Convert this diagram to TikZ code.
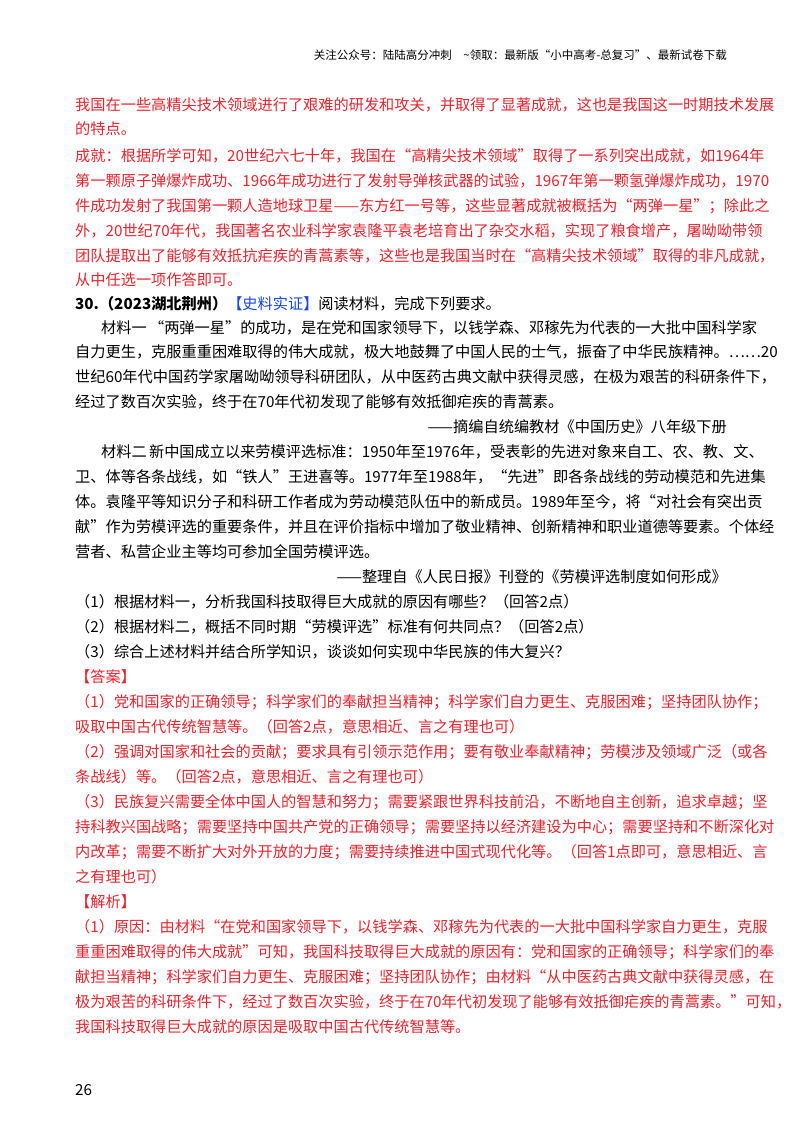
\documentclass[tikz,border=0pt]{standalone}
\usepackage{fontspec}
\setmainfont{Noto Sans CJK SC}
\definecolor{ared}{RGB}{235,35,45}
\definecolor{ablue}{RGB}{20,70,230}
\newcounter{ln}
\newcommand{\fullln}[3][black]{\stepcounter{ln}\node[anchor=west,text=#1] (l\arabic{ln}) at (75,#2) {\hbox to 652pt{#3}};}
\newcommand{\shortln}[3][black]{\stepcounter{ln}\node[anchor=west,text=#1] (l\arabic{ln}) at (75,#2) {#3};}
\newcommand{\indln}[3][black]{\stepcounter{ln}\node[anchor=west,text=#1] (l\arabic{ln}) at (75,#2) {\hbox to 652pt{\hspace{26pt}#3}};}
\newcommand{\indshort}[3][black]{\stepcounter{ln}\node[anchor=west,text=#1] (l\arabic{ln}) at (100,#2) {#3};}
\newcommand{\rightln}[3][black]{\stepcounter{ln}\node[anchor=east,text=#1] (l\arabic{ln}) at (727,#2) {#3};}
\XeTeXlinebreaklocale "zh"
\XeTeXlinebreakskip=0pt plus 4pt
\begin{document}
\begin{tikzpicture}[x=1pt,y=-1pt,every node/.style={inner sep=0pt,font=\fontsize{15.2}{18}\selectfont}]
\useasboundingbox (0,0) rectangle (800,1132);
\fill[white] (0,0) rectangle (800,1132);
\node[anchor=east,font=\fontsize{11.5}{14}\selectfont] (hdr) at (727,55) {关注公众号：陆陆高分冲刺\quad\~{}领取：最新版“小中高考-总复习”、最新试卷下载};
\fullln[ared]{105}{我国在一些高精尖技术领域进行了艰难的研发和攻关，并取得了显著成就，这也是我国这一时期技术发展}
\shortln[ared]{129}{的特点。}
\fullln[ared]{156}{成就：根据所学可知，20世纪六七十年，我国在“高精尖技术领域”取得了一系列突出成就，如1964年}
\fullln[ared]{181}{第一颗原子弹爆炸成功、1966年成功进行了发射导弹核武器的试验，1967年第一颗氢弹爆炸成功，1970}
\fullln[ared]{206}{件成功发射了我国第一颗人造地球卫星——东方红一号等，这些显著成就被概括为“两弹一星”；除此之}
\fullln[ared]{231}{外，20世纪70年代，我国著名农业科学家袁隆平袁老培育出了杂交水稻，实现了粮食增产，屠呦呦带领}
\fullln[ared]{256}{团队提取出了能够有效抵抗疟疾的青蒿素等，这些也是我国当时在“高精尖技术领域”取得的非凡成就，}
\shortln[ared]{280}{从中任选一项作答即可。}
\shortln{304}{\textbf{30.（2023湖北荆州）}\textcolor{ablue}{【史料实证】}阅读材料，完成下列要求。}
\indln{328}{材料一\ “两弹一星”的成功，是在党和国家领导下，以钱学森、邓稼先为代表的一大批中国科学家}
\fullln{352}{自力更生，克服重重困难取得的伟大成就，极大地鼓舞了中国人民的士气，振奋了中华民族精神。……20}
\fullln{377}{世纪60年代中国药学家屠呦呦领导科研团队，从中医药古典文献中获得灵感，在极为艰苦的科研条件下，}
\shortln{402}{经过了数百次实验，终于在70年代初发现了能够有效抵御疟疾的青蒿素。}
\rightln{427}{——摘编自统编教材《中国历史》八年级下册}
\indln{452}{材料二\ 新中国成立以来劳模评选标准：1950年至1976年，受表彰的先进对象来自工、农、教、文、}
\fullln{477}{卫、体等各条战线，如“铁人”王进喜等。1977年至1988年，“先进”即各条战线的劳动模范和先进集}
\fullln{502}{体。袁隆平等知识分子和科研工作者成为劳动模范队伍中的新成员。1989年至今，将“对社会有突出贡}
\fullln{527}{献”作为劳模评选的重要条件，并且在评价指标中增加了敬业精神、创新精神和职业道德等要素。个体经}
\shortln{552}{营者、私营企业主等均可参加全国劳模评选。}
\rightln{577}{——整理自《人民日报》刊登的《劳模评选制度如何形成》}
\shortln{602}{（1）根据材料一，分析我国科技取得巨大成就的原因有哪些？（回答2点）}
\shortln{627}{（2）根据材料二，概括不同时期“劳模评选”标准有何共同点？（回答2点）}
\shortln{652}{（3）综合上述材料并结合所学知识，谈谈如何实现中华民族的伟大复兴？}
\shortln[ared]{677}{【答案】}
\fullln[ared]{702}{（1）党和国家的正确领导；科学家们的奉献担当精神；科学家们自力更生、克服困难；坚持团队协作；}
\shortln[ared]{727}{吸取中国古代传统智慧等。（回答2点，意思相近、言之有理也可）}
\fullln[ared]{752}{（2）强调对国家和社会的贡献；要求具有引领示范作用；要有敬业奉献精神；劳模涉及领域广泛（或各}
\shortln[ared]{777}{条战线）等。（回答2点，意思相近、言之有理也可）}
\fullln[ared]{802}{（3）民族复兴需要全体中国人的智慧和努力；需要紧跟世界科技前沿，不断地自主创新，追求卓越；坚}
\fullln[ared]{827}{持科教兴国战略；需要坚持中国共产党的正确领导；需要坚持以经济建设为中心；需要坚持和不断深化对}
\fullln[ared]{852}{内改革；需要不断扩大对外开放的力度；需要持续推进中国式现代化等。（回答1点即可，意思相近、言}
\shortln[ared]{877}{之有理也可）}
\shortln[ared]{902}{【解析】}
\fullln[ared]{927}{（1）原因：由材料“在党和国家领导下，以钱学森、邓稼先为代表的一大批中国科学家自力更生，克服}
\fullln[ared]{952}{重重困难取得的伟大成就”可知，我国科技取得巨大成就的原因有：党和国家的正确领导；科学家们的奉}
\fullln[ared]{977}{献担当精神；科学家们自力更生、克服困难；坚持团队协作；由材料“从中医药古典文献中获得灵感，在}
\fullln[ared]{1002}{极为艰苦的科研条件下，经过了数百次实验，终于在70年代初发现了能够有效抵御疟疾的青蒿素。”可知，}
\shortln[ared]{1027}{我国科技取得巨大成就的原因是吸取中国古代传统智慧等。}
\node[anchor=west] (pg) at (75,1090) {26};
\end{tikzpicture}
\end{document}
